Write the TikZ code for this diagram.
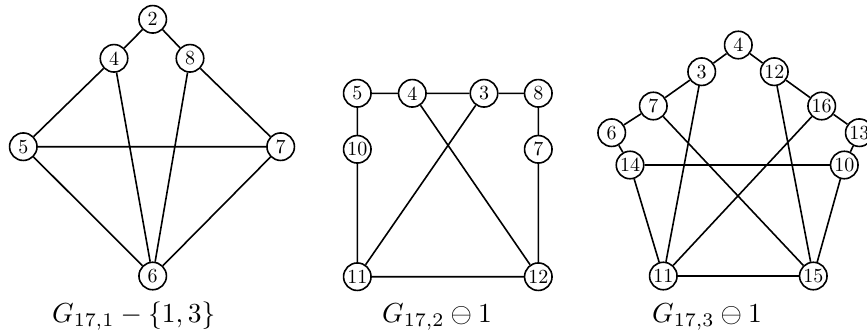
\documentclass[tikz,border=0pt]{standalone}
\usepackage{graphicx}
\newcommand{\vlab}[1]{\scalebox{2.0}{#1}}
\newcommand{\glab}[1]{\scalebox{2.75}{#1}}
\begin{document}
\begin{tikzpicture}[x=1pt,y=-1pt,
  vtx/.style={circle,draw,line width=1.6pt,minimum size=27.5pt,inner sep=0pt,fill=white},
  edge/.style={line width=1.6pt},
  gcap/.style={anchor=base west,inner sep=0pt}]
\useasboundingbox (0,0) rectangle (867,335);
% graph 1
\node[vtx] (a2) at (152.7,19.3) {\vlab{2}};
\node[vtx] (a4) at (114,58.3) {\vlab{4}};
\node[vtx] (a8) at (190,58.3) {\vlab{8}};
\node[vtx] (a5) at (23.3,146.7) {\vlab{5}};
\node[vtx] (a7) at (280.7,146.7) {\vlab{7}};
\node[vtx] (a6) at (152.7,276) {\vlab{6}};
\draw[edge] (a2)--(a4) (a2)--(a8) (a4)--(a5) (a4)--(a6) (a8)--(a6) (a8)--(a7) (a5)--(a7) (a5)--(a6) (a7)--(a6);
\node[gcap] (c1) at (52,322) {\glab{$G_{17,1}-\{1,3\}$}};
% graph 2
\node[vtx] (b5) at (357.3,93.3) {\vlab{5}};
\node[vtx] (b4) at (412.3,93.3) {\vlab{4}};
\node[vtx] (b3) at (484,93.3) {\vlab{3}};
\node[vtx] (b8) at (538.3,93.3) {\vlab{8}};
\node[vtx] (b10) at (357.3,149.3) {\vlab{10}};
\node[vtx] (b7) at (538.3,149.3) {\vlab{7}};
\node[vtx] (b11) at (357.3,276.7) {\vlab{11}};
\node[vtx] (b12) at (538.3,276.7) {\vlab{12}};
\draw[edge] (b5)--(b4) (b4)--(b3) (b3)--(b8) (b5)--(b10) (b8)--(b7) (b10)--(b11) (b7)--(b12) (b11)--(b12) (b4)--(b12) (b3)--(b11);
\node[gcap] (c2) at (382,322) {\glab{$G_{17,2}\ominus 1$}};
% graph 3
\node[vtx] (d4) at (738.3,45) {\vlab{4}};
\node[vtx] (d3) at (701.7,71.7) {\vlab{3}};
\node[vtx] (d12) at (774.3,71.7) {\vlab{12}};
\node[vtx] (d7) at (653.3,106) {\vlab{7}};
\node[vtx] (d16) at (821.7,106) {\vlab{16}};
\node[vtx] (d6) at (611.7,132.7) {\vlab{6}};
\node[vtx] (d13) at (859.3,132.7) {\vlab{13}};
\node[vtx] (d14) at (630,165) {\vlab{14}};
\node[vtx] (d10) at (844.3,165) {\vlab{10}};
\node[vtx] (d11) at (663.3,276) {\vlab{11}};
\node[vtx] (d15) at (813.3,276) {\vlab{15}};
\draw[edge] (d4)--(d3) (d4)--(d12) (d3)--(d7) (d7)--(d6) (d6)--(d14) (d12)--(d16) (d16)--(d13) (d13)--(d10) (d14)--(d10) (d14)--(d11) (d10)--(d15) (d11)--(d15) (d3)--(d11) (d12)--(d15) (d7)--(d15) (d16)--(d11);
\node[gcap] (c3) at (652,322) {\glab{$G_{17,3}\ominus 1$}};
\end{tikzpicture}
\end{document}
